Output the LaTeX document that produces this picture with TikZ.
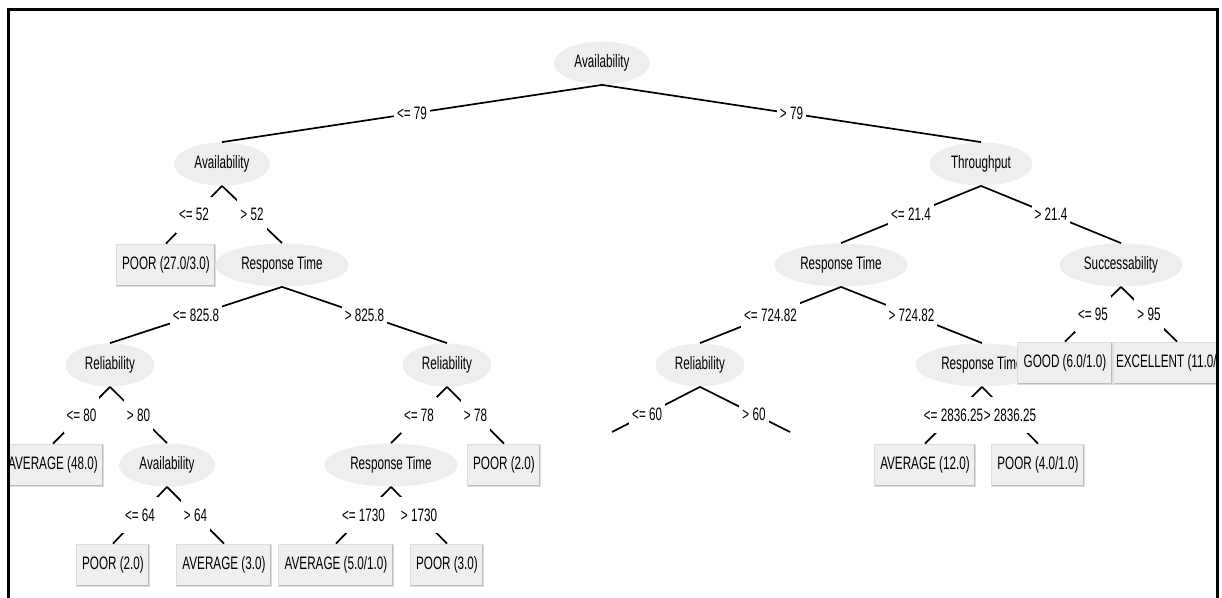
\documentclass[tikz,border=0pt]{standalone}
\usepackage{fontspec}
\setmainfont{Liberation Sans}[FakeStretch=0.65]
\usetikzlibrary{shapes.geometric}

\definecolor{attrgray}{HTML}{EEEEEE}
\definecolor{leafgray}{HTML}{EFEFEF}
\definecolor{leafedge}{HTML}{DDDDDD}
\definecolor{leafshade}{HTML}{BBBBBB}

\newcommand\treefont{\fontsize{9}{10.5}\selectfont}

\tikzset{
	attr/.style={ellipse, fill=attrgray, inner xsep=3.2pt, inner ysep=1pt,
		minimum height=21.5pt, font=\treefont},
	leaf/.style={rectangle, fill=leafgray, draw=leafedge, line width=0.4pt,
		inner xsep=3pt, minimum height=21pt, font=\treefont,
		path picture={\draw[leafshade, line width=1.4pt]
			(path picture bounding box.south west) --
			(path picture bounding box.south east) --
			(path picture bounding box.north east);}},
	cond/.style={fill=white, inner xsep=1.5pt, inner ysep=0pt,
		minimum height=18pt, font=\treefont},
	branch/.style={line width=0.85pt},
}

\begin{document}
\begin{tikzpicture}[x=0.5pt,y=-0.5pt]

% canvas %{{{2

	\useasboundingbox (0,0) rectangle (1222,598);

\begin{scope}
	\clip (9.5,11.5) rectangle (1216,600);

% nodes, preorder %{{{2

	\node[attr] (avail0) at (602,63) {Availability};

	% ---- left half

	\node[attr] (avail1) at (222,164) {Availability};
	\node[leaf] (poor27) at (166,265) {POOR (27.0/3.0)};
	\node[attr] (rtL) at (282,265) {Response Time};
	\node[attr] (relLL) at (110,365) {Reliability};
	\node[leaf] (avg48) at (53,465) {AVERAGE (48.0)};
	\node[attr] (availLL) at (167,465) {Availability};
	\node[leaf] (poor2a) at (113,565) {POOR (2.0)};
	\node[leaf] (avg3) at (224,565) {AVERAGE (3.0)};
	\node[attr] (relLR) at (447,365) {Reliability};
	\node[attr] (rtLR) at (391,465) {Response Time};
	\node[leaf] (avg5) at (336,565) {AVERAGE (5.0/1.0)};
	\node[leaf] (poor3) at (447,565) {POOR (3.0)};
	\node[leaf] (poor2b) at (504,465) {POOR (2.0)};

	% ---- right half

	\node[attr] (thru) at (981,164) {Throughput};
	\node[attr] (rtR) at (841,265) {Response Time};
	\node[attr] (relRL) at (700,365) {Reliability};
	\node[attr] (rtRR) at (982,365) {Response Time};
	\node[leaf] (avg12) at (925,465) {AVERAGE (12.0)};
	\node[leaf] (poor4) at (1038,465) {POOR (4.0/1.0)};
	\node[attr] (succ) at (1121,265) {Successability};
	\node[leaf] (good) at (1065,363) {GOOD (6.0/1.0)};
	\node[leaf, inner xsep=1.5pt] (exc) at (1177,363)
		{\makebox[61pt][l]{EXCELLENT (11.0/}};

	% ---- loose ends under Reliability

	\coordinate (relRL-a) at (612,432);
	\coordinate (relRL-b) at (790,432);

% branches %{{{2

	\draw[branch] (avail0.south) -- node[cond] {<= 79} (avail1.north);
	\draw[branch] (avail0.south) -- node[cond] {> 79} (thru.north);

	\draw[branch] (avail1.south) -- node[cond] {<= 52} (poor27.north);
	\draw[branch] (avail1.south) -- node[cond] {> 52} (rtL.north);

	\draw[branch] (rtL.south) -- node[cond] {<= 825.8} (relLL.north);
	\draw[branch] (rtL.south) -- node[cond] {> 825.8} (relLR.north);

	\draw[branch] (relLL.south) -- node[cond] {<= 80} (avg48.north);
	\draw[branch] (relLL.south) -- node[cond] {> 80} (availLL.north);

	\draw[branch] (availLL.south) -- node[cond] {<= 64} (poor2a.north);
	\draw[branch] (availLL.south) -- node[cond] {> 64} (avg3.north);

	\draw[branch] (relLR.south) -- node[cond] {<= 78} (rtLR.north);
	\draw[branch] (relLR.south) -- node[cond] {> 78} (poor2b.north);

	\draw[branch] (rtLR.south) -- node[cond] {<= 1730} (avg5.north);
	\draw[branch] (rtLR.south) -- node[cond] {> 1730} (poor3.north);

	\draw[branch] (thru.south) -- node[cond] {<= 21.4} (rtR.north);
	\draw[branch] (thru.south) -- node[cond] {> 21.4} (succ.north);

	\draw[branch] (rtR.south) -- node[cond] {<= 724.82} (relRL.north);
	\draw[branch] (rtR.south) -- node[cond] {> 724.82} (rtRR.north);

	\draw[branch] (relRL.south) -- node[cond, pos=0.6] {<= 60} (relRL-a);
	\draw[branch] (relRL.south) -- node[cond, pos=0.6] {> 60} (relRL-b);

	% ---- these two labels sit almost edge to edge

	\draw[branch] (rtRR.south) -- node[cond, inner xsep=0pt] {<= 2836.25} (avg12.north);
	\draw[branch] (rtRR.south) -- node[cond, inner xsep=0pt] {> 2836.25} (poor4.north);

	\draw[branch] (succ.south) -- node[cond] {<= 95} (good.north);
	\draw[branch] (succ.south) -- node[cond] {> 95} (exc.north);

\end{scope}

% frame %{{{2

	\draw[line width=1.5pt] (8,610) -- (8,10) -- (1217.5,10) -- (1217.5,610);

% closing %{{{2

\end{tikzpicture}
\end{document}
